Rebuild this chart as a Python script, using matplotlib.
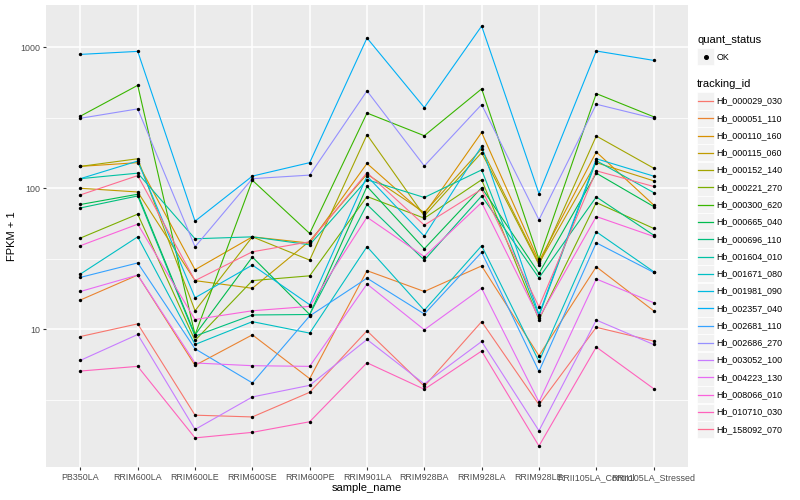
import matplotlib
matplotlib.use("Agg")
import matplotlib.pyplot as plt
from matplotlib.patches import Rectangle
from matplotlib.lines import Line2D
from matplotlib.ticker import FixedLocator, NullFormatter

plt.rcParams["font.family"] = ["Liberation Sans", "DejaVu Sans"]

SAMPLES = ["PB350LA", "RRIM600LA", "RRIM600LE", "RRIM600SE", "RRIM600PE",
           "RRIM901LA", "RRIM928BA", "RRIM928LA", "RRIM928LE",
           "RRII105LA_Control", "RRII105LA_Stressed"]

IDS = ["Hb_000029_030", "Hb_000051_110", "Hb_000110_160", "Hb_000115_060",
       "Hb_000152_140", "Hb_000221_270", "Hb_000300_620", "Hb_000665_040",
       "Hb_000696_110", "Hb_001604_010", "Hb_001671_080", "Hb_001981_090",
       "Hb_002357_040", "Hb_002681_110", "Hb_002686_270", "Hb_003052_100",
       "Hb_004223_130", "Hb_008066_010", "Hb_010710_030", "Hb_158092_070"]

# ggplot default hue palette for 20 levels
COLORS = ["#F8766D", "#EA8331", "#D89000", "#C09B00", "#A3A500", "#7CAE00",
          "#39B600", "#00BB4E", "#00BF7D", "#00C1A3", "#00BFC4", "#00BAE0",
          "#00B0F6", "#35A2FF", "#9590FF", "#C77CFF", "#E76BF3", "#FA62DB",
          "#FF62BC", "#FF6C91"]

# FPKM + 1, one value per sample
hb_000029_030 = [8.86, 10.9, 2.45, 2.38, 3.56, 9.73, 3.93, 11.3, 2.91, 10.3, 8.23]
hb_000051_110 = [16.1, 24.2, 5.53, 9.11, 4.45, 26.0, 18.5, 28.1, 6.47, 27.7, 13.5]
hb_000110_160 = [143, 152, 26.4, 45.2, 40.8, 150, 65.5, 249, 30.3, 181, 76.2]
hb_000115_060 = [100, 94.1, 22.1, 19.5, 42.2, 126, 67.3, 191, 29.3, 152, 113]
hb_000152_140 = [143, 162, 13.5, 45.2, 30.9, 240, 63.7, 179, 28.7, 235, 139]
hb_000221_270 = [44.3, 65.5, 8.31, 22.1, 23.9, 87.4, 61.3, 115, 11.7, 79.2, 51.9]
hb_000300_620 = [325, 538, 9.11, 114, 47.8, 342, 236, 508, 31.4, 470, 322]
hb_000665_040 = [76.7, 90.7, 9.11, 32.5, 12.7, 103, 37.2, 101, 24.9, 128, 74.2]
hb_000696_110 = [72.5, 88.2, 8.92, 12.6, 12.7, 76.7, 30.9, 88.2, 23.1, 86.8, 46.5]
hb_001604_010 = [117, 128, 43.8, 45.2, 39.7, 115, 86.0, 135, 12.4, 157, 93.2]
hb_001671_080 = [24.6, 45.2, 7.78, 11.3, 9.37, 38.5, 13.6, 39.1, 5.90, 49.1, 25.6]
hb_001981_090 = [117, 156, 16.7, 28.5, 14.9, 122, 45.7, 199, 12.7, 162, 122]
hb_002357_040 = [892, 937, 58.4, 122, 152, 1166, 374, 1418, 91.7, 943, 809]
hb_002681_110 = [23.3, 29.5, 7.25, 4.15, 12.4, 23.0, 12.8, 35.1, 5.01, 41.0, 25.3]
hb_002686_270 = [314, 366, 38.4, 117, 124, 491, 144, 393, 59.7, 395, 314]
hb_003052_100 = [6.0, 9.16, 1.94, 3.30, 3.99, 8.44, 4.08, 8.17, 1.90, 11.6, 7.78]
hb_004223_130 = [18.5, 24.2, 5.75, 5.50, 5.44, 20.9, 9.89, 19.5, 3.04, 22.7, 15.4]
hb_008066_010 = [39.1, 55.6, 11.7, 13.5, 14.5, 62.3, 32.7, 79.2, 12.0, 63.0, 45.5]
hb_010710_030 = [5.04, 5.44, 1.69, 1.85, 2.20, 5.77, 3.74, 6.99, 1.48, 7.46, 3.78]
hb_158092_070 = [89.7, 123, 22.1, 35.4, 41.7, 129, 54.7, 98.4, 14.4, 133, 103]

SERIES = [hb_000029_030, hb_000051_110, hb_000110_160, hb_000115_060,
          hb_000152_140, hb_000221_270, hb_000300_620, hb_000665_040,
          hb_000696_110, hb_001604_010, hb_001671_080, hb_001981_090,
          hb_002357_040, hb_002681_110, hb_002686_270, hb_003052_100,
          hb_004223_130, hb_008066_010, hb_010710_030, hb_158092_070]

W, H = 800, 500
fig = plt.figure(figsize=(W / 100, H / 100), dpi=100)
ax = fig.add_axes([46 / W, 1 - 467 / H, (688 - 46) / W, (467 - 5) / H])
ax.set_facecolor("#EBEBEB")

x = list(range(len(SAMPLES)))
for vals, col in zip(SERIES, COLORS):
    ax.plot(x, vals, color=col, lw=0.8, zorder=2)
for vals in SERIES:
    ax.scatter(x, vals, s=6, color="black", zorder=3, linewidths=0)

ax.set_yscale("log")
ax.set_ylim(1.05, 2000)
ax.set_xlim(-0.6, len(SAMPLES) - 0.4)
ax.yaxis.set_major_locator(FixedLocator([10, 100, 1000]))
ax.yaxis.set_minor_locator(FixedLocator([10 ** 0.5, 10 ** 1.5, 10 ** 2.5]))
ax.yaxis.set_minor_formatter(NullFormatter())
ax.set_yticklabels(["10", "100", "1000"])
ax.set_xticks(x)
ax.set_xticklabels(SAMPLES)

ax.grid(which="major", color="white", lw=1.1, zorder=0)
ax.grid(which="minor", axis="y", color="white", lw=0.55, zorder=0)
ax.set_axisbelow(True)
for s in ax.spines.values():
    s.set_visible(False)
ax.tick_params(which="major", length=2.2, width=0.8, color="#333333",
               labelsize=6.4, labelcolor="#4D4D4D", pad=2)
ax.tick_params(which="minor", length=0)
ax.set_xlabel("sample_name", fontsize=8, labelpad=1)
ax.set_ylabel("FPKM + 1", fontsize=8, labelpad=2)


def fx(px):
    return px / W


def fy(py):
    return 1 - py / H


# legend: quant_status
fig.text(fx(697), fy(40), "quant_status", fontsize=8, va="center", ha="left")
fig.add_artist(Rectangle((fx(697), fy(65)), 17 / W, 17 / H,
                         transform=fig.transFigure, facecolor="#F2F2F2",
                         edgecolor="white", lw=0.5))
fig.add_artist(Line2D([fx(705.5)], [fy(57)], transform=fig.transFigure,
                      marker="o", ms=2.6, color="black", lw=0))
fig.text(fx(716.5), fy(57), "OK", fontsize=6.4, va="center", ha="left")

# legend: tracking_id
fig.text(fx(697), fy(84), "tracking_id", fontsize=8, va="center", ha="left")
for i, (name, col) in enumerate(zip(IDS, COLORS)):
    cy = 101 + 17.28 * i
    fig.add_artist(Rectangle((fx(697), fy(cy + 8.5)), 17 / W, 17 / H,
                             transform=fig.transFigure, facecolor="#F2F2F2",
                             edgecolor="white", lw=0.5))
    fig.add_artist(Line2D([fx(698), fx(713)], [fy(cy), fy(cy)],
                          transform=fig.transFigure, color=col, lw=0.9))
    fig.text(fx(716.5), fy(cy), name, fontsize=6.4, va="center", ha="left")

fig.savefig("out.png", dpi=100)
